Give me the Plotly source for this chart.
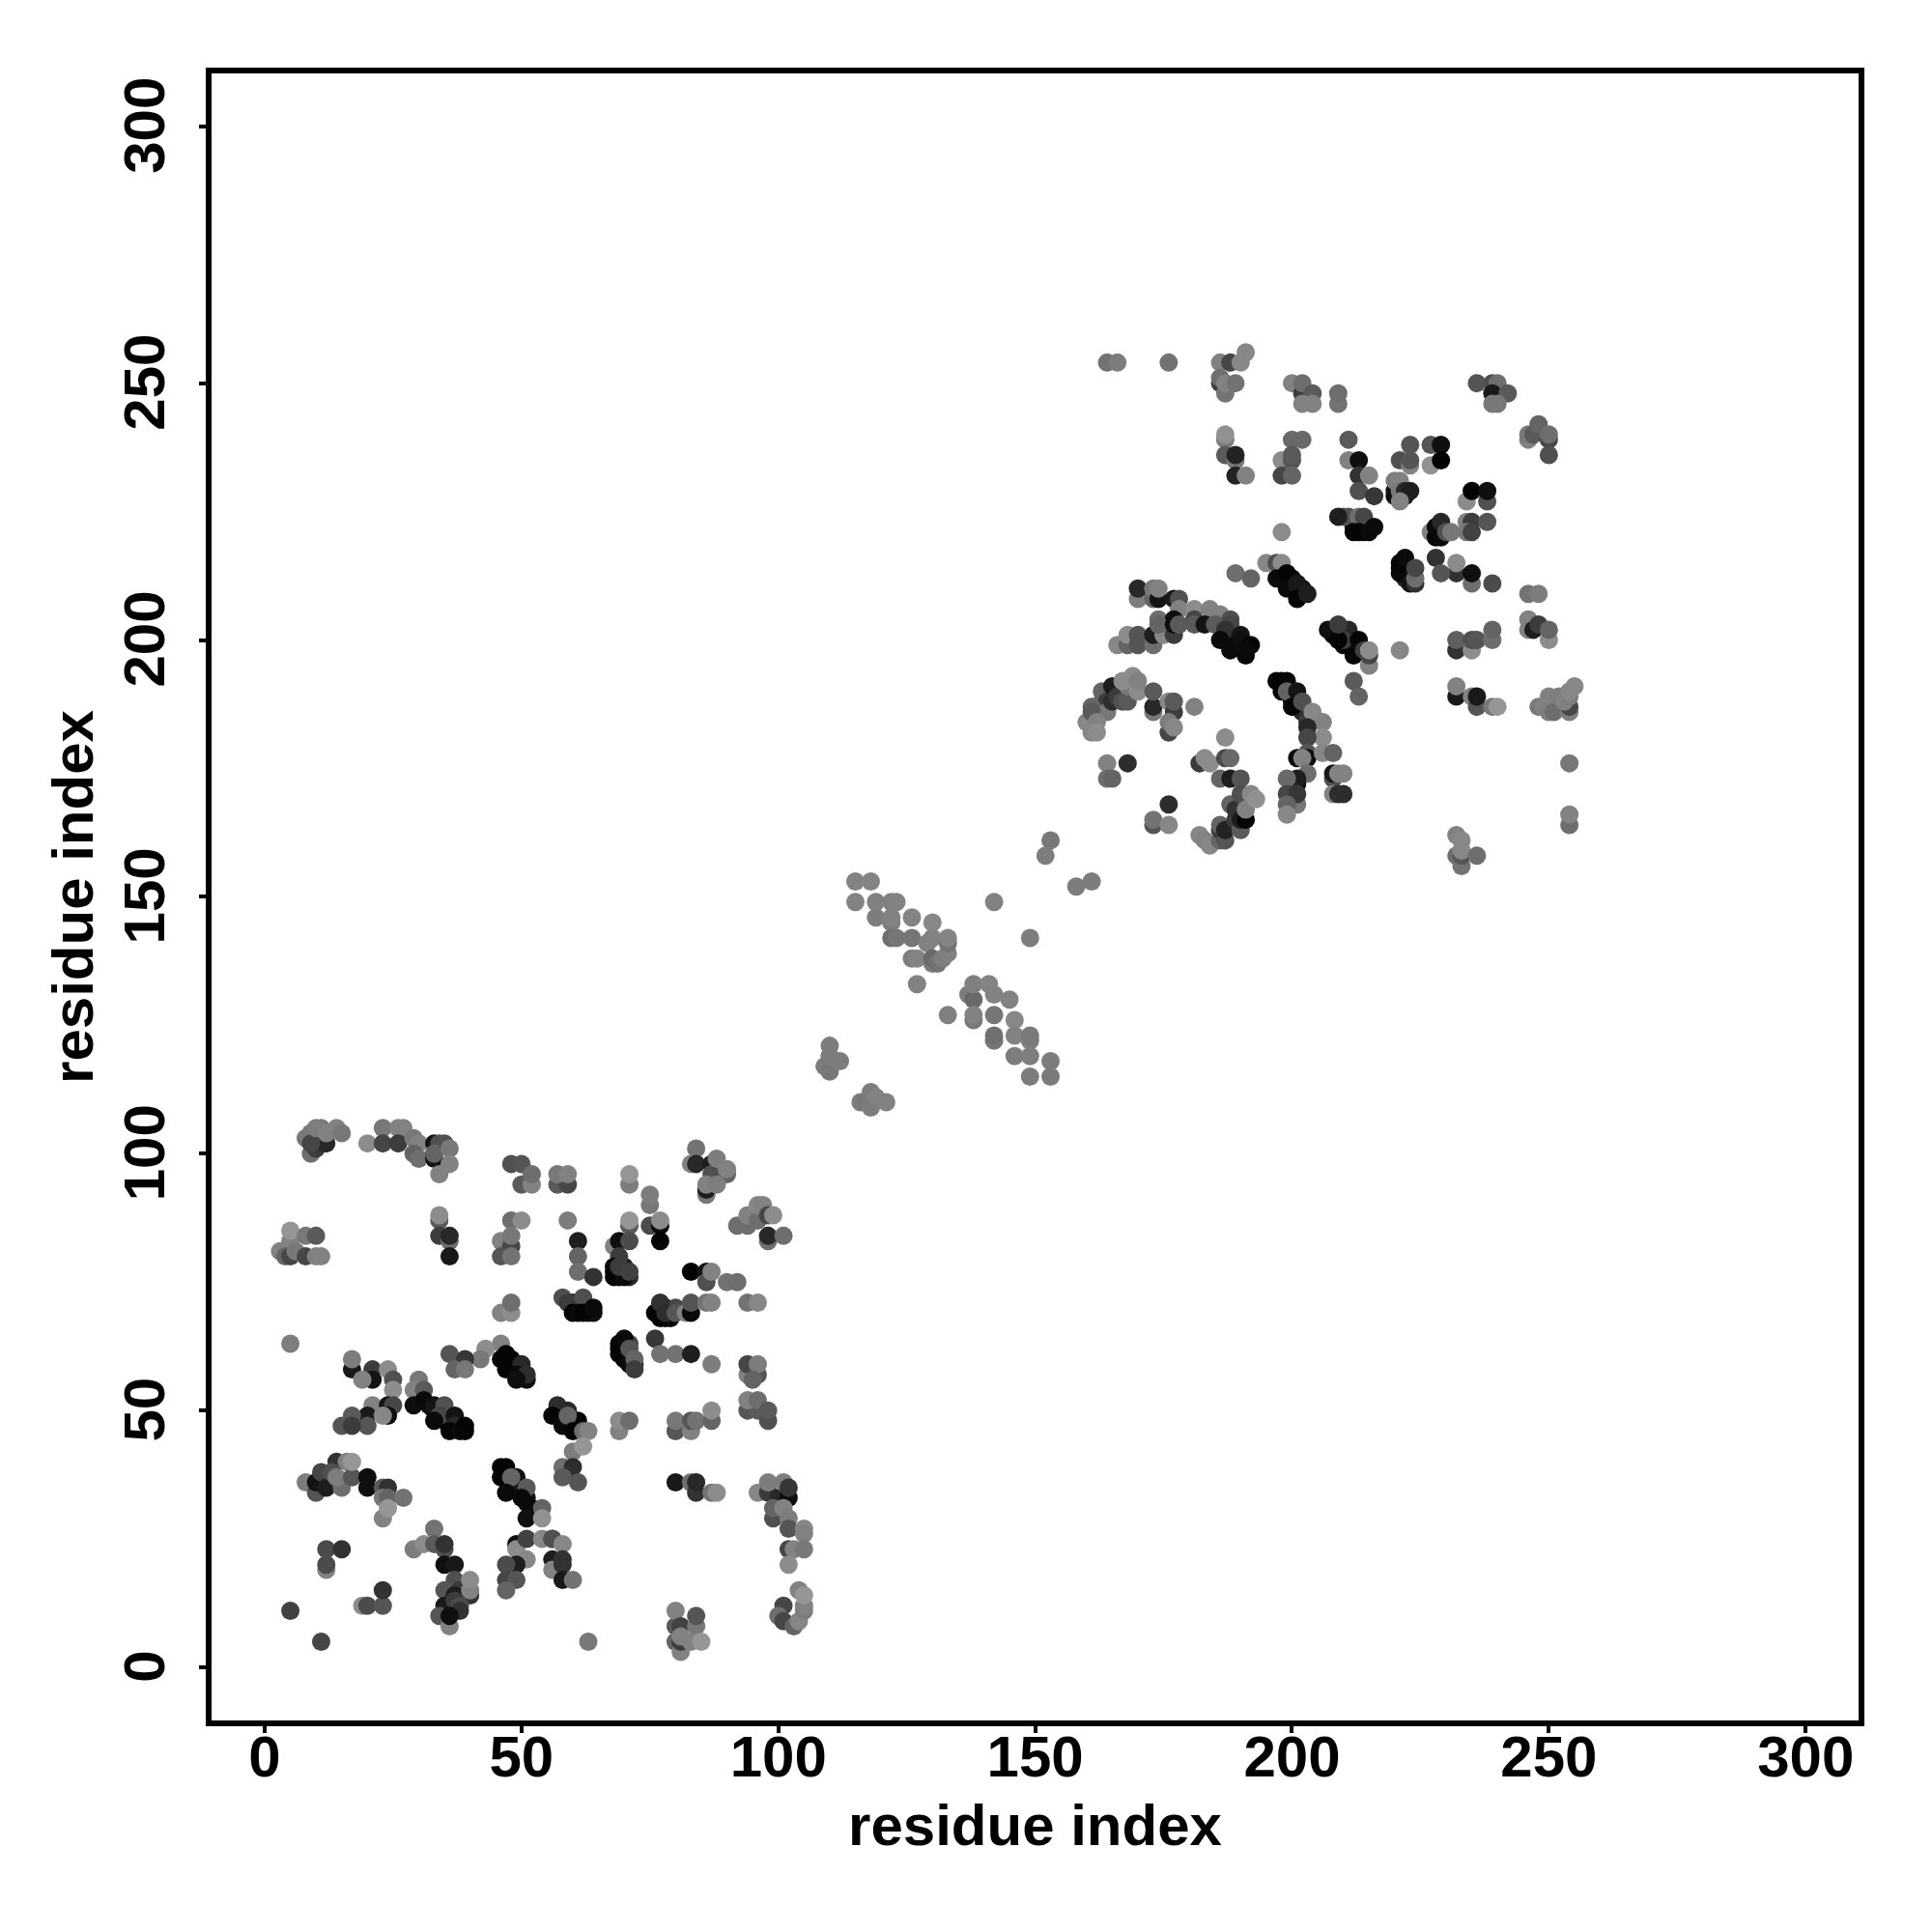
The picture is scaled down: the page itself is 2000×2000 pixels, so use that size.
import plotly.graph_objects as go

# (residue x, residue y, grey shade of the point)
block_a_upper = [
(8,103,120),(9,100,110),(10,101,60),(9,104,120),(11,105,120),(11,102,50),(12,102,40),(9,102,70),(10,105,125),(12,104,130),(14,105,130),(15,104,120),
(20,102,140),(23,105,120),(23,102,70),(26,105,130),(27,105,130),(26,102,60),(29,103,120),(30,102,130),(29,100,100),(30,99,110),(33,102,20),(33,99,20),(34,102,80),(35,102,80),(33,100,100),(36,101,120),(36,98,130),(34,96,130),
(48,98,80),(50,98,85),(50,94,90),(52,94,130),(52,96,110),(57,94,90),(59,94,70),(57,96,120),(59,96,130),
(5,83,130),(5,85,150),(3,81,130),(4,80,100),(5,80,70),(6,81,120),(8,84,120),(10,84,90),(8,80,70),(10,80,130),(11,80,130),
(34,87,90),(34,88,140),(34,84,60),(36,83,110),(36,84,40),(36,80,25),
(48,87,110),(50,87,140),(46,83,130),(48,82,70),(48,84,120),(46,80,85),(48,80,115),
(46,69,130),(48,69,140),(48,71,110),(5,63,125),
(59,87,125),(61,83,30),(61,80,100),(61,77,110),(64,76,50),
(71,94,125),(71,96,150),(75,90,120),(75,92,125),(71,86,90),(71,87,150),(75,86,75),(77,86,10),(77,87,140),(77,83,5),(68,82,130),(69,83,15),(71,83,75),(69,80,60),(68,78,10),(68,76,5),(70,76,10),(69,78,60),(71,77,65),
(84,101,115),(83,98,130),(84,98,40),(87,98,30),(87,96,80),(88,99,125),(90,96,100),(90,97,130),(86,92,120),(86,93,30),(86,94,130),(88,94,125),
(92,86,110),(94,86,110),(94,88,130),(96,87,110),(96,90,135),(97,90,130),(98,88,70),(99,88,140),(98,83,110),(98,84,40),(101,84,110),
(83,77,3),(86,77,20),(86,75,80),(87,77,130),(90,75,115),(92,75,110),
(58,72,80),(59,71,60),(62,72,80),(60,69,5),(61,69,10),(62,69,5),(64,70,10),
(76,69,5),(77,71,50),(78,69,45),(80,69,85),(82,69,130),(83,69,10),(83,71,85),(86,71,115),(87,71,130),(94,71,115),(96,71,135),
(76,64,55),(77,61,115),(80,61,115),(83,61,30),(87,59,125),
(69,63,5),(70,64,10),(69,61,5),(71,59,10),(71,62,85),(72,60,100),(72,58,60),
(94,57,130),(96,57,85),(94,59,70),(96,59,125),(95,56,100),
]

block_a_lower = [
(46,63,130),(43,62,140),(42,60,120),(36,61,85),(39,60,55),(37,58,100),(39,58,120),(17,58,25),(17,60,125),(21,58,60),(24,58,140),(21,56,20),(19,56,130),(25,56,80),(30,56,120),
(46,60,5),(47,61,5),(47,58,5),(49,58,5),(50,59,40),(49,57,10),(51,57,45),(49,56,15),
(25,54,140),(29,54,130),(31,54,90),(29,51,15),(31,52,10),(33,51,20),(35,51,80),(34,49,70),(33,48,10),(37,49,20),(37,47,40),(36,46,5),(38,46,10),(39,47,3),(39,46,5),
(21,51,130),(24,51,20),(25,51,70),(24,49,15),(20,49,25),(23,49,135),(17,49,90),(20,47,85),(15,47,85),(17,47,60),
(8,36,125),(10,34,85),(10,36,20),(11,38,70),(12,35,30),(14,40,50),(13,38,80),(15,35,110),(14,37,125),(16,40,130),(17,37,85),(17,40,150),(20,37,15),(20,35,15),(23,35,90),(24,35,50),(23,33,120),(24,33,100),(27,33,115),(23,29,130),(24,31,150),
(33,27,115),(29,23,125),(31,24,140),(33,24,90),(35,23,80),(35,24,50),(35,20,15),(37,20,25),
(12,23,75),(15,23,50),(12,19,130),(12,20,75),(19,12,140),(20,12,75),(23,12,85),(23,15,50),(5,11,65),(11,5,70),
(37,17,80),(35,15,85),(38,15,60),(37,14,30),(40,14,50),(40,15,130),(40,17,140),(35,12,25),(37,13,60),(38,12,75),(38,11,50),(34,10,85),(36,8,130),(36,10,15),
(46,39,5),(47,39,5),(46,37,5),(49,37,15),(48,37,100),(47,34,10),(51,35,90),(50,33,10),(52,31,10),(51,29,15),(54,31,100),(54,29,145),
(49,24,15),(49,23,140),(51,25,65),(54,25,135),(56,25,80),(51,21,135),(49,20,30),(47,20,75),(47,17,70),(49,17,85),(47,15,100),(56,21,30),(56,19,130),
(57,51,45),(59,50,40),(56,49,5),(58,47,10),(61,48,5),(59,49,100),(60,46,5),(62,46,110),(63,46,130),(60,42,125),(62,43,150),(58,39,110),(60,39,45),(58,37,90),(61,36,85),
(69,46,130),(69,48,140),(71,48,110),(80,46,85),(80,48,120),(83,46,130),(83,48,85),(84,48,115),(87,48,100),(87,50,140),
(94,50,85),(96,50,90),(94,52,130),(96,52,110),(98,48,80),(98,50,90),
(80,36,25),(83,36,110),(84,34,50),(84,36,40),(87,34,115),(88,34,140),
(96,34,135),(98,34,60),(98,36,125),(100,33,40),(101,36,125),(102,33,15),(102,35,55),(99,29,80),(99,31,100),(101,31,130),(102,29,125),(102,27,85),(105,27,135),(105,26,130),(102,23,70),(103,23,130),(105,23,120),(102,20,140),
(101,12,70),(100,10,110),(101,9,70),(103,8,100),(104,9,135),(105,11,125),(105,12,130),(104,15,130),(105,14,150),
(63,5,120),(80,8,90),(80,11,130),(81,8,65),(84,8,120),(84,10,85),(80,5,100),(81,3,130),(81,5,60),(81,6,130),(83,5,130),(85,5,150),
(56,25,80),(58,24,135),(58,20,50),(58,21,50),(58,17,25),(60,17,115),
]

bridge = [
(115,153,130),(118,153,132),(115,149,130),(119,149,128),(122,149,128),(123,149,130),(119,146,125),(122,145,125),(122,146,130),(126,146,132),(130,145,135),
(122,142,110),(123,142,118),(126,142,118),(126,138,125),(127,138,132),(129,141,130),(130,142,130),(130,137,125),(130,138,105),(131,137,115),(132,138,125),(133,139,128),(133,141,115),(133,142,132),
(127,133,130),(142,149,130),(149,142,125),(152,158,125),(153,161,120),(158,152,125),(161,153,125),
(133,127,128),(137,131,125),(138,130,105),(138,133,128),(141,133,132),(142,131,130),(145,130,130),(138,126,120),(138,127,130),(142,127,118),(142,122,118),(142,123,112),(146,126,135),(146,123,130),(149,122,125),(149,123,122),(146,119,125),(149,119,125),(153,118,125),(149,115,125),(153,115,122),
(109,117,125),(110,116,120),(110,119,125),(110,121,125),(112,118,125),(116,110,125),(117,110,120),(118,109,125),(118,112,125),(119,111,130),(121,110,130),
]

block_b_upper = [
(164,254,115),(166,254,125),(176,254,115),
(186,254,130),(188,254,70),(186,250,60),(186,251,110),(187,248,115),(187,250,130),(189,250,115),(190,254,135),(191,256,135),
(200,250,130),(202,248,60),(202,250,110),(204,248,90),(202,246,130),(204,246,130),(209,246,115),(209,248,110),
(187,239,125),(187,240,145),(187,236,90),(189,235,120),(189,236,35),(189,232,35),(191,232,130),
(200,239,105),(202,239,105),(198,235,140),(200,235,85),(200,236,90),(198,232,70),(200,232,100),
(236,250,85),(239,250,80),(240,250,110),(239,248,25),(242,248,90),(239,246,120),(240,246,120),
(246,239,130),(246,240,120),(247,240,90),(248,242,100),(250,239,70),(250,240,110),(250,236,80),
(211,239,90),(211,235,130),(213,235,15),(213,232,50),(215,232,130),(213,229,80),(216,228,55),
(223,238,85),(221,235,80),(223,234,130),(223,235,85),(227,234,145),(227,238,85),(229,238,15),(229,235,3),
(220,228,10),(220,229,15),(220,231,125),(221,231,130),(221,229,120),(222,228,20),(222,229,40),(223,229,30),(221,227,130),
(234,227,140),(235,229,3),(238,227,80),(238,229,15),(234,223,130),(235,223,60),(238,223,85),(234,221,120),(235,221,65),
(227,221,130),(228,220,5),(229,220,10),(228,222,10),(229,223,40),(230,221,80),(231,221,120),
(210,224,90),(211,224,80),(213,224,110),(214,224,70),(212,221,5),(213,221,5),(215,221,10),(216,222,10),(209,224,30),
(228,216,50),(232,213,50),(232,215,140),(229,213,85),(235,211,110),(235,213,15),(239,211,75),
(221,213,10),(221,215,5),(222,216,10),(223,211,20),(224,211,50),(224,212,110),(224,214,70),
(246,209,115),(248,209,125),
(246,204,130),(246,202,130),(247,202,30),(248,203,60),(250,200,140),(250,202,100),
(232,198,50),(232,200,95),(235,198,140),(235,200,80),(236,200,85),(239,200,110),(239,202,100),
(232,189,25),(232,191,130),(235,189,130),(236,187,85),(236,189,25),(239,187,120),(240,187,150),
(221,198,135),(215,195,130),(212,192,90),(213,189,100),(211,202,40),(210,200,60),(213,200,5),(212,197,5),(214,198,60),(215,197,70),(215,198,140),
(248,187,120),(249,187,130),(250,186,125),(250,189,130),(251,186,110),(252,189,125),(254,186,125),(254,187,70),(253,188,130),(254,189,125),(254,190,135),(255,191,135),
(254,176,120),(254,164,110),(254,166,130),
(232,158,110),(233,156,115),(233,158,85),(232,162,130),(233,159,135),(233,161,135),(236,158,110),
(210,174,130),(210,170,45),
]

block_b_lower = [
(166,199,135),(168,199,100),(168,201,140),(170,199,85),(170,201,85),(173,199,110),(173,201,30),(175,201,135),(177,201,60),
(170,208,125),(170,210,40),(173,208,100),(173,210,120),(174,208,20),(174,210,130),(177,208,25),(178,208,80),(178,206,130),(181,206,140),(184,206,130),(186,205,130),
(174,204,110),(177,204,15),(181,204,70),(188,204,80),(174,203,100),(177,203,15),(178,203,90),(181,203,90),(183,203,20),(185,203,90),(188,203,70),(187,202,50),
(186,200,10),(190,201,20),(188,198,10),(190,200,15),(191,197,5),(192,199,5),(191,198,10),
(195,215,135),(197,215,80),(198,215,140),(189,213,110),(192,212,100),(197,212,10),(199,213,5),(199,210,10),(201,210,20),(201,211,25),(201,208,5),(203,209,30),(198,221,140),
(208,202,10),(207,202,15),(209,200,5),(209,203,60),
(163,188,110),(163,190,100),(164,188,60),(161,187,100),(165,191,30),(164,186,120),(160,184,135),(161,186,90),(162,184,130),(161,182,135),(162,182,140),(165,188,45),(166,189,60),(167,188,80),(168,188,90),(168,191,120),(167,192,140),(169,193,140),(170,190,140),(170,192,130),
(173,186,120),(173,187,40),(173,190,90),(176,188,135),(177,186,60),(177,188,90),(181,187,130),(176,182,70),(176,184,125),(177,183,135),
(164,176,130),(168,176,45),(164,173,110),(165,173,100),
(187,181,140),(182,176,60),(183,177,140),(184,176,140),(187,177,75),(188,177,105),(186,173,100),(188,173,30),(190,173,85),
(176,168,45),(173,164,85),(173,165,115),(176,164,135),
(182,162,135),(183,161,130),(184,160,135),(186,161,100),(186,163,60),(186,164,100),(187,161,85),(187,163,35),(188,168,100),(189,165,60),(189,167,50),(190,163,90),(190,165,30),(191,165,5),(190,170,80),(191,167,130),(192,170,135),(193,169,145),
(197,192,5),(199,192,5),(198,190,5),(199,190,100),(201,190,20),(200,187,5),(202,188,80),(204,186,135),(206,184,130),(206,181,140),(203,183,40),(203,181,70),(203,178,85),(201,177,10),(203,177,15),(202,177,130),(203,174,110),(201,172,10),(201,173,30),(199,173,105),(199,170,70),(201,168,120),(201,170,55),(199,168,100),(199,166,135),(206,178,135),(208,178,100),(208,173,80),(208,174,25),(209,174,130),(208,170,130),(209,170,45),
]

# dark contacts largely hidden under the others along the strand-pair runs
hidden_runs_a = [
(47,60,5),(48,59,5),(49,59,8),(50,57,10),(51,56,15),(48,60,5),
(47,38,5),(47,37,5),(48,36,8),(49,35,10),(49,36,10),(50,34,15),(51,33,15),(51,32,20),(52,30,15),(50,35,30),
(33,50,15),(34,50,25),(35,49,20),(35,48,10),(36,47,8),(37,48,15),(38,47,5),(32,51,15),(30,52,10),
(57,50,20),(58,49,10),(59,48,15),(60,47,10),(61,47,5),(57,49,5),
(60,71,30),(61,70,10),(62,70,10),(63,69,10),(60,70,10),(64,69,15),
(70,62,5),(70,60,5),(71,61,10),(72,59,30),(69,62,8),(71,63,70),
(77,70,10),(78,70,5),(77,68,5),(78,68,5),(79,68,10),(80,70,70),
(69,77,8),(70,78,30),(71,76,40),(69,76,5),(68,77,5),
]
hidden_runs_b = [
(198,192,5),(199,191,5),(200,190,5),(200,188,8),(201,189,10),(201,187,15),(202,186,40),(203,185,45),(203,184,60),(200,189,5),
(198,213,5),(199,212,5),(200,211,5),(200,212,10),(201,209,10),(202,210,15),(202,209,20),(199,211,8),
(187,201,15),(188,200,10),(189,199,10),(190,199,5),(189,200,15),(191,199,5),(187,200,10),
(208,201,5),(209,201,5),(210,201,25),(210,199,10),(211,199,5),(212,198,5),(212,199,20),(213,198,15),
(212,222,5),(213,222,5),(214,221,10),(213,223,50),(212,223,30),
(221,214,5),(222,214,10),(223,213,15),(222,212,40),(223,212,30),
]

tick_values = [0, 50, 100, 150, 200, 250, 300]
axis_title = "residue index"
blocks = hidden_runs_a + hidden_runs_b + block_b_upper + block_a_upper + block_a_lower + bridge + block_b_lower
residue_x = [p[0] for p in blocks]
residue_y = [p[1] for p in blocks]
shade = [p[2] for p in blocks]

FONT = "Liberation Sans"
fig = go.Figure(go.Scatter(
    x=residue_x, y=residue_y, mode="markers", cliponaxis=True,
    marker=dict(size=19, color=shade, cmin=0, cmax=255,
                colorscale=[[0, "rgb(0,0,0)"], [1, "rgb(255,255,255)"]],
                line=dict(width=0), opacity=1),
))
axis_common = dict(
    tickvals=tick_values, ticks="outside", ticklen=7, tickwidth=4, tickcolor="black",
    showline=True, linewidth=5.5, linecolor="black", mirror=True,
    showgrid=False, zeroline=False,
    tickfont=dict(family=FONT, size=60, color="black", weight="bold"),
)
title_font = dict(family=FONT, size=60, color="black", weight="bold")
fig.update_xaxes(range=[-10.34, 310.3], tickangle=0, ticklabelstandoff=-27,
                 title=dict(text=axis_title, font=title_font, standoff=19), **axis_common)
fig.update_yaxes(range=[-10.34, 310.3], tickangle=-90, ticklabelstandoff=12, ticklabelshift=8,
                 title=dict(text=axis_title, font=title_font, standoff=2), **axis_common)
fig.update_layout(
    width=1984, height=1984, showlegend=False,
    paper_bgcolor="white", plot_bgcolor="white",
    margin=dict(l=211, r=68, t=68, b=211, autoexpand=False),
)
fig.write_html("out.html")
